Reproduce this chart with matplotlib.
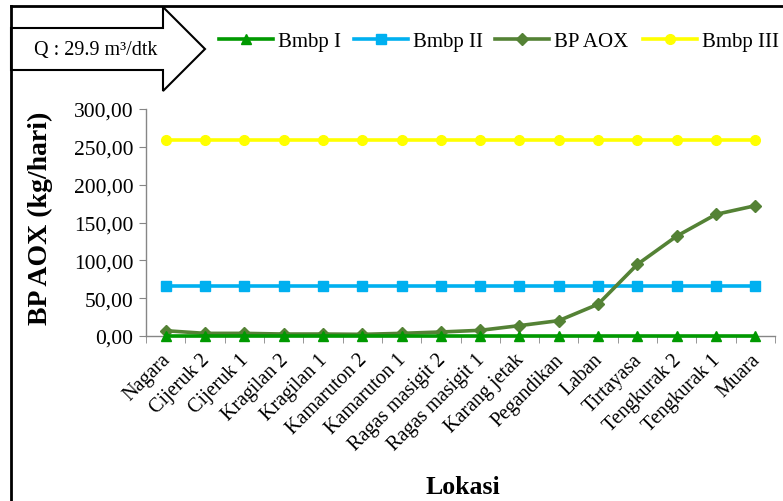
import matplotlib
matplotlib.use("Agg")
import matplotlib.pyplot as plt
import matplotlib.transforms as mtransforms
from matplotlib.patches import Polygon
from matplotlib.lines import Line2D

plt.rcParams['font.family'] = ['Liberation Serif', 'DejaVu Serif']

# lokasi sampling sepanjang sungai
lokasi = ['Nagara', 'Cijeruk 2', 'Cijeruk 1', 'Kragilan 2', 'Kragilan 1',
          'Kamaruton 2', 'Kamaruton 1', 'Ragas masigit 2', 'Ragas masigit 1',
          'Karang jetak', 'Pegandikan', 'Laban', 'Tirtayasa', 'Tengkurak 2',
          'Tengkurak 1', 'Muara']

# beban pencemaran AOX (kg/hari)
bp_aox = [7.0, 3.5, 3.5, 2.6, 2.6, 2.2, 3.5, 5.3, 7.5, 13.7, 20.3, 42.0,
          94.7, 132.0, 160.8, 172.2]

# beban maksimum per kelas mutu
bmbp_1 = [0.0] * len(lokasi)
bmbp_2 = [65.5] * len(lokasi)
bmbp_3 = [258.5] * len(lokasi)

debit_text = 'Q : 29.9 m³/dtk'

W, H = 783, 502
fig = plt.figure(figsize=(W / 100, H / 100), dpi=100)
ax = fig.add_axes([146 / W, 1 - 337 / H, (775 - 146) / W, (337 - 110) / H])

x = list(range(len(lokasi)))
axis_color = '#868686'

series = [
    ('Bmbp I', bmbp_1, '#009900', '^', 7, 5),
    ('Bmbp II', bmbp_2, '#00B0F0', 's', 7, 3),
    ('BP AOX', bp_aox, '#548235', 'D', 6, 4),
    ('Bmbp III', bmbp_3, '#FFFF00', 'o', 7, 3),
]
for name, vals, col, mk, ms, z in series:
    ax.plot(x, vals, color=col, lw=2.6, marker=mk, ms=ms, label=name,
            zorder=z, clip_on=False)

ax.set_xlim(-0.5, len(lokasi) - 0.5)
ax.set_ylim(0, 300)
ax.set_yticks(range(0, 301, 50))
ax.set_yticklabels(['%d,00' % v for v in range(0, 301, 50)], fontsize=15.5)

ax.set_xticks(x)
ax.set_xticklabels(lokasi, rotation=45, ha='right', rotation_mode='anchor', fontsize=14.5)
ax.tick_params(axis='x', length=0, pad=10)
shift = mtransforms.ScaledTranslation(-5 / 100, 0, fig.dpi_scale_trans)
for lbl in ax.get_xticklabels():
    lbl.set_transform(lbl.get_transform() + shift)
ax.set_xticks([i - 0.5 for i in range(len(lokasi) + 1)], minor=True)
ax.tick_params(axis='x', which='minor', length=5, color=axis_color, direction='out')
ax.tick_params(axis='y', length=5, color=axis_color, direction='out', pad=4)

for side in ['top', 'right']:
    ax.spines[side].set_visible(False)
for side in ['left', 'bottom']:
    ax.spines[side].set_color(axis_color)
    ax.spines[side].set_linewidth(1.0)

fig.text(40 / W, 1 - 218 / H, 'BP AOX (kg/hari)', rotation=90, fontsize=20,
         fontweight='bold', ha='center', va='center')
fig.text(463 / W, 1 - 488 / H, 'Lokasi', fontsize=18.5, fontweight='bold',
         ha='center', va='center')

# legenda di atas grafik, satu entri per seri
legend_x = [219, 354, 495, 643]
for (name, vals, col, mk, ms, z), lx in zip(series, legend_x):
    h = Line2D([], [], color=col, lw=2.6, marker=mk, ms=ms)
    fig.legend([h], [name], loc='center left',
               bbox_to_anchor=(lx / W, 1 - 42 / H), frameon=False,
               fontsize=15, handlelength=2.6, handletextpad=0.25,
               borderpad=0, borderaxespad=0)

# bingkai chart
fig.add_artist(Line2D([11 / W, 1], [1 - 7 / H, 1 - 7 / H], transform=fig.transFigure,
                      color='black', lw=2))
fig.add_artist(Line2D([11 / W, 11 / W], [1 - 7 / H, 0], transform=fig.transFigure,
                      color='black', lw=2))

# panah debit
arrow_px = [(11, 29), (163, 29), (163, 8), (205, 50), (163, 92), (163, 71), (11, 71)]
arrow = Polygon([(px / W, 1 - py / H) for px, py in arrow_px], closed=True,
                transform=fig.transFigure, facecolor='white', edgecolor='black', lw=1.5)
fig.add_artist(arrow)
fig.text(96 / W, 1 - 50 / H, debit_text, fontsize=14.5, ha='center', va='center')

fig.savefig('out.png', dpi=100)
